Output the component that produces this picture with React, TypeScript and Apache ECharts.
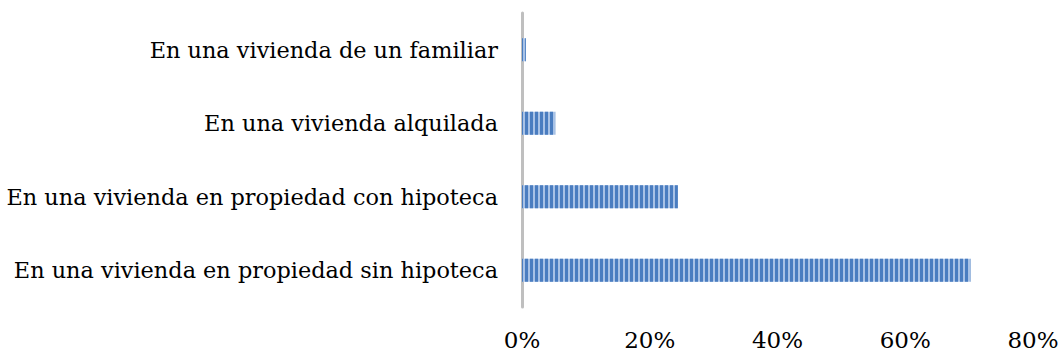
import React, { useEffect, useRef } from "react";
import * as echarts from "echarts";

// Housing situation categories (bottom to top on the axis)
const categories = [
  "En una vivienda en propiedad sin hipoteca",
  "En una vivienda en propiedad con hipoteca",
  "En una vivienda alquilada",
  "En una vivienda de un familiar",
];

// Share of respondents, in percent
const shares = [70.2, 24.4, 5.2, 0.6];

const xMin = 0;
const xMax = 80;
const xStep = 20;

const FONT = "DejaVu Serif";

export default function App() {
  const ref = useRef<HTMLDivElement>(null);

  useEffect(() => {
    if (!ref.current) return;
    const chart = echarts.init(ref.current, undefined, { renderer: "svg" });
    chart.setOption({
      animation: false,
      backgroundColor: "#ffffff",
      grid: { left: 522, right: 29, top: 13, bottom: 47, containLabel: false },
      xAxis: {
        type: "value",
        min: xMin,
        max: xMax,
        interval: xStep,
        axisLine: { show: false },
        axisTick: { show: false },
        splitLine: { show: false },
        axisLabel: {
          formatter: (v: number) => `${v}%`,
          fontFamily: FONT,
          fontSize: 23,
          color: "#000000",
          margin: 21,
        },
      },
      yAxis: {
        type: "category",
        data: categories,
        axisLine: { show: true, lineStyle: { color: "#bfbfbf", width: 3 } },
        axisTick: { show: false },
        axisLabel: {
          fontFamily: FONT,
          fontSize: 22.4,
          color: "#000000",
          margin: 24,
        },
      },
      series: [
        {
          type: "bar",
          data: shares,
          barWidth: 23,
          itemStyle: {
            // light base with darker vertical stripes on top
            color: "#a8c2e6",
            decal: {
              symbol: "rect",
              symbolSize: 1,
              color: "#4a7dc0",
              dashArrayX: [2.4, 2],
              dashArrayY: [40, 0],
              rotation: 0,
            },
          },
        },
      ],
    });
    return () => chart.dispose();
  }, []);

  return (
    <div
      ref={ref}
      style={{ position: "fixed", left: 0, top: 0, width: 1062, height: 354 }}
    />
  );
}
